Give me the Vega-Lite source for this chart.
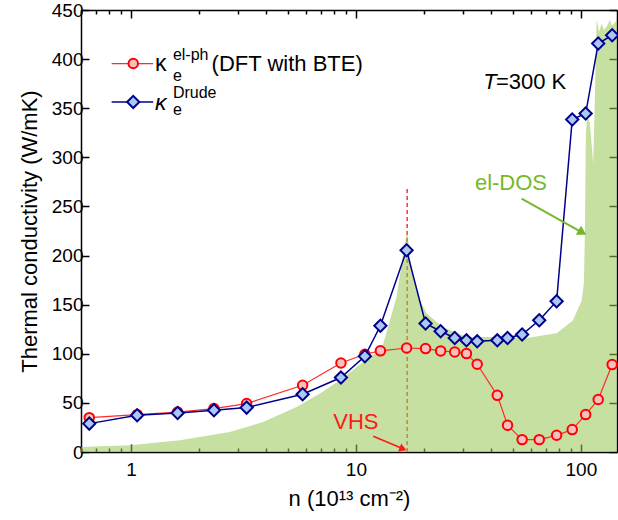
{
  "$schema": "https://vega.github.io/schema/vega-lite/v6.json",
  "autosize": "none",
  "width": 536,
  "height": 442,
  "padding": {"left": 81, "top": 10, "right": 1, "bottom": 68},
  "background": "white",
  "config": {
    "view": {"stroke": null},
    "font": "Liberation Sans",
    "axis": {
      "labelFont": "Liberation Sans", "labelFontSize": 19, "labelColor": "black",
      "titleFont": "Liberation Sans", "titleFontSize": 22, "titleFontWeight": "normal", "titleColor": "black",
      "domainColor": "black", "domainWidth": 1.5, "tickColor": "black", "tickWidth": 1.5, "grid": false
    },
    "text": {"font": "Liberation Sans"}
  },
  "datasets": {
    "red": [
      {"n": 0.653, "v": 35.0}, {"n": 1.066, "v": 38.0}, {"n": 1.613, "v": 40.7}, {"n": 2.339, "v": 44.2},
      {"n": 3.268, "v": 49.3}, {"n": 5.797, "v": 67.9}, {"n": 8.58, "v": 90.6}, {"n": 10.96, "v": 99.5},
      {"n": 12.85, "v": 103.0}, {"n": 16.8, "v": 105.9}, {"n": 20.4, "v": 105.3}, {"n": 23.8, "v": 102.9},
      {"n": 27.5, "v": 101.8}, {"n": 31.0, "v": 100.2}, {"n": 34.6, "v": 89.3}, {"n": 42.5, "v": 57.7},
      {"n": 47.2, "v": 27.2}, {"n": 54.8, "v": 12.6}, {"n": 65.3, "v": 12.6}, {"n": 78.0, "v": 17.0},
      {"n": 91.5, "v": 22.8}, {"n": 105, "v": 38.1}, {"n": 119.4, "v": 53.4}, {"n": 137.7, "v": 89.0}
    ],
    "blue": [
      {"n": 0.653, "v": 28.9}, {"n": 1.066, "v": 37.4}, {"n": 1.613, "v": 39.7}, {"n": 2.339, "v": 42.5},
      {"n": 3.268, "v": 45.2}, {"n": 5.797, "v": 58.8}, {"n": 8.58, "v": 75.8}, {"n": 10.96, "v": 97.5},
      {"n": 12.85, "v": 128.5}, {"n": 16.8, "v": 205.4}, {"n": 20.4, "v": 130.8}, {"n": 23.8, "v": 122.9},
      {"n": 27.5, "v": 116.1}, {"n": 31.0, "v": 113.7}, {"n": 34.6, "v": 112.7}, {"n": 42.5, "v": 113.7},
      {"n": 47.2, "v": 116.1}, {"n": 54.8, "v": 119.6}, {"n": 65.3, "v": 134.1}, {"n": 78.0, "v": 153.5},
      {"n": 91.5, "v": 338.5}, {"n": 105, "v": 344.6}, {"n": 119.4, "v": 415.9}, {"n": 137.7, "v": 424.3}
    ],
    "dos": [
      {"n": 0.6, "v": 5}, {"n": 0.99, "v": 6.8}, {"n": 1.65, "v": 12}, {"n": 2.75, "v": 20.4},
      {"n": 3.87, "v": 30.5}, {"n": 5.45, "v": 45.8}, {"n": 6.92, "v": 59.5}, {"n": 8.49, "v": 73},
      {"n": 10.07, "v": 86.6}, {"n": 11.54, "v": 96.7}, {"n": 12.79, "v": 103.6}, {"n": 13.22, "v": 110},
      {"n": 14.16, "v": 134}, {"n": 15.17, "v": 158}, {"n": 15.97, "v": 192}, {"n": 16.9, "v": 226},
      {"n": 17.38, "v": 199}, {"n": 17.97, "v": 178}, {"n": 18.92, "v": 158}, {"n": 20.62, "v": 141},
      {"n": 24.43, "v": 127}, {"n": 31.05, "v": 117}, {"n": 42.33, "v": 117}, {"n": 57.37, "v": 116},
      {"n": 78.0, "v": 121}, {"n": 92.1, "v": 134}, {"n": 100.7, "v": 154}, {"n": 103.1, "v": 172},
      {"n": 104.2, "v": 222}, {"n": 105.2, "v": 324}, {"n": 106.7, "v": 342}, {"n": 109.6, "v": 335},
      {"n": 113.4, "v": 294}, {"n": 115.4, "v": 360}, {"n": 117.4, "v": 440}, {"n": 120.6, "v": 428},
      {"n": 123.6, "v": 436}, {"n": 126.6, "v": 430}, {"n": 130.1, "v": 433}, {"n": 134.6, "v": 440},
      {"n": 137.4, "v": 434}, {"n": 141.6, "v": 437}, {"n": 144.7, "v": 440}
    ]
  },
  "resolve": {"axis": {"x": "independent", "y": "independent"}},
  "layer": [
    {
      "layer": [
        {
          "data": {"values": [{"n": 16.9, "v": 0, "v2": 270}]},
          "mark": {"type": "rule", "color": "#ff3030", "strokeWidth": 1.5, "strokeDash": [4, 3]},
          "encoding": {
            "x": {"field": "n", "type": "quantitative",
              "scale": {"type": "log", "domain": [0.6, 144.7], "nice": false},
              "axis": {"orient": "top", "title": null, "labels": false,
                "values": [0.6, 0.7, 0.8, 0.9, 1, 2, 3, 4, 5, 6, 7, 8, 9, 10, 20, 30, 40, 50, 60, 70, 80, 90, 100],
                "tickSize": {"condition": {"test": "datum.value == 1 || datum.value == 10 || datum.value == 100", "value": -8}, "value": -4}}},
            "y": {"field": "v", "type": "quantitative",
              "scale": {"domain": [0, 450], "nice": false, "zero": false},
              "axis": {"orient": "right", "title": null, "labels": false,
                "values": [0, 25, 50, 75, 100, 125, 150, 175, 200, 225, 250, 275, 300, 325, 350, 375, 400, 425, 450],
                "tickSize": {"condition": {"test": "datum.value % 50 == 0", "value": -8}, "value": -4}}},
            "y2": {"field": "v2"}
          }
        },
        {
          "data": {"name": "dos"},
          "mark": {"type": "area", "color": "#95c752", "opacity": 0.55, "interpolate": "linear", "clip": true},
          "encoding": {
            "x": {"field": "n", "type": "quantitative"},
            "y": {"field": "v", "type": "quantitative"}
          }
        }
      ]
    },
    {
      "layer": [
        {
          "data": {"name": "red"},
          "mark": {"type": "line", "color": "#ff2a2a", "strokeWidth": 1.2},
          "encoding": {
            "x": {"field": "n", "type": "quantitative",
              "scale": {"type": "log", "domain": [0.6, 144.7], "nice": false},
              "axis": {"orient": "bottom", "title": "n (10¹³ cm⁻²)", "titlePadding": 9,
                "values": [0.6, 0.7, 0.8, 0.9, 1, 2, 3, 4, 5, 6, 7, 8, 9, 10, 20, 30, 40, 50, 60, 70, 80, 90, 100],
                "labelExpr": "datum.value == 1 ? '1' : datum.value == 10 ? '10' : datum.value == 100 ? '100' : ''",
                "tickSize": {"condition": {"test": "datum.value == 1 || datum.value == 10 || datum.value == 100", "value": -8}, "value": -4},
                "labelPadding": 16}},
            "y": {"field": "v", "type": "quantitative",
              "scale": {"domain": [0, 450], "nice": false, "zero": false},
              "axis": {"orient": "left", "title": "Thermal conductivity (W/mK)",
                "values": [0, 25, 50, 75, 100, 125, 150, 175, 200, 225, 250, 275, 300, 325, 350, 375, 400, 425, 450],
                "labelExpr": "datum.value % 50 == 0 ? datum.label : ''",
                "tickSize": {"condition": {"test": "datum.value % 50 == 0", "value": -8}, "value": -4},
                "labelPadding": 6, "titlePadding": 10}}
          }
        },
        {
          "data": {"name": "red"},
          "mark": {"type": "point", "shape": "circle", "filled": true, "fill": "#f7c0c0", "stroke": "#ff0000", "strokeWidth": 2, "size": 90, "opacity": 1},
          "encoding": {"x": {"field": "n", "type": "quantitative"}, "y": {"field": "v", "type": "quantitative"}}
        },
        {
          "data": {"name": "blue"},
          "mark": {"type": "line", "color": "#00008b", "strokeWidth": 1.5},
          "encoding": {"x": {"field": "n", "type": "quantitative"}, "y": {"field": "v", "type": "quantitative"}}
        },
        {
          "data": {"name": "blue"},
          "mark": {"type": "point", "shape": "diamond", "filled": true, "fill": "#a9c9f2", "stroke": "#00008b", "strokeWidth": 2, "size": 150, "opacity": 1},
          "encoding": {"x": {"field": "n", "type": "quantitative"}, "y": {"field": "v", "type": "quantitative"}}
        },
        {
          "data": {"values": [{"n": 0.821, "v": 395.5}, {"n": 1.256, "v": 395.5}]},
          "mark": {"type": "line", "color": "#ff2a2a", "strokeWidth": 1.2},
          "encoding": {"x": {"field": "n", "type": "quantitative"}, "y": {"field": "v", "type": "quantitative"}}
        },
        {
          "data": {"values": [{"n": 1.024, "v": 395.5}]},
          "mark": {"type": "point", "shape": "circle", "filled": true, "fill": "#f7c0c0", "stroke": "#ff0000", "strokeWidth": 2, "size": 90, "opacity": 1},
          "encoding": {"x": {"field": "n", "type": "quantitative"}, "y": {"field": "v", "type": "quantitative"}}
        },
        {
          "data": {"values": [{"n": 0.821, "v": 356.4}, {"n": 1.256, "v": 356.4}]},
          "mark": {"type": "line", "color": "#00008b", "strokeWidth": 1.5},
          "encoding": {"x": {"field": "n", "type": "quantitative"}, "y": {"field": "v", "type": "quantitative"}}
        },
        {
          "data": {"values": [{"n": 1.024, "v": 356.4}]},
          "mark": {"type": "point", "shape": "diamond", "filled": true, "fill": "#a9c9f2", "stroke": "#00008b", "strokeWidth": 2, "size": 150, "opacity": 1},
          "encoding": {"x": {"field": "n", "type": "quantitative"}, "y": {"field": "v", "type": "quantitative"}}
        },
        {
          "data": {"values": [{"n": 1.278, "v": 395.5, "t": "κ"}]},
          "mark": {"type": "text", "fontSize": 23, "align": "left", "baseline": "middle", "color": "black"},
          "encoding": {"x": {"field": "n", "type": "quantitative"}, "y": {"field": "v", "type": "quantitative"}, "text": {"field": "t"}}
        },
        {
          "data": {"values": [{"n": 1.278, "v": 355.1, "t": "κ"}]},
          "mark": {"type": "text", "fontSize": 23, "fontStyle": "italic", "align": "left", "baseline": "middle", "color": "black"},
          "encoding": {"x": {"field": "n", "type": "quantitative"}, "y": {"field": "v", "type": "quantitative"}, "text": {"field": "t"}}
        },
        {
          "data": {"values": [{"n": 1.537, "v": 404, "t": "el-ph"}, {"n": 1.537, "v": 365.3, "t": "Drude"}, {"n": 1.537, "v": 382.5, "t": "e"}, {"n": 1.537, "v": 348.5, "t": "e"}]},
          "mark": {"type": "text", "fontSize": 16, "align": "left", "baseline": "middle", "color": "black"},
          "encoding": {"x": {"field": "n", "type": "quantitative"}, "y": {"field": "v", "type": "quantitative"}, "text": {"field": "t"}}
        },
        {
          "data": {"values": [{"n": 2.284, "v": 395.5, "t": "(DFT with BTE)"}, {"n": 41.9, "v": 376.8, "t": "=300 K"}]},
          "mark": {"type": "text", "fontSize": 22, "align": "left", "baseline": "middle", "color": "black"},
          "encoding": {"x": {"field": "n", "type": "quantitative"}, "y": {"field": "v", "type": "quantitative"}, "text": {"field": "t"}}
        },
        {
          "data": {"values": [{"n": 36.8, "v": 376.8, "t": "T"}]},
          "mark": {"type": "text", "fontSize": 22, "fontStyle": "italic", "align": "left", "baseline": "middle", "color": "black"},
          "encoding": {"x": {"field": "n", "type": "quantitative"}, "y": {"field": "v", "type": "quantitative"}, "text": {"field": "t"}}
        },
        {
          "data": {"values": [{"n": 33.8, "v": 273.6, "t": "el-DOS"}]},
          "mark": {"type": "text", "fontSize": 22, "align": "left", "baseline": "middle", "color": "#77b82a"},
          "encoding": {"x": {"field": "n", "type": "quantitative"}, "y": {"field": "v", "type": "quantitative"}, "text": {"field": "t"}}
        },
        {
          "data": {"values": [{"n": 7.93, "v": 30.5, "t": "VHS"}]},
          "mark": {"type": "text", "fontSize": 22, "align": "left", "baseline": "middle", "color": "#ff1a1a"},
          "encoding": {"x": {"field": "n", "type": "quantitative"}, "y": {"field": "v", "type": "quantitative"}, "text": {"field": "t"}}
        },
        {
          "data": {"values": [{"n": 54.5, "v": 258, "n2": 102, "v2": 223}]},
          "mark": {"type": "rule", "color": "#77b82a", "strokeWidth": 2},
          "encoding": {"x": {"field": "n", "type": "quantitative"}, "y": {"field": "v", "type": "quantitative"}, "x2": {"field": "n2"}, "y2": {"field": "v2"}}
        },
        {
          "data": {"values": [{"n": 101.5, "v": 223.5}]},
          "mark": {"type": "point", "shape": "triangle-right", "filled": true, "color": "#77b82a", "size": 110, "angle": 30, "opacity": 1},
          "encoding": {"x": {"field": "n", "type": "quantitative"}, "y": {"field": "v", "type": "quantitative"}}
        },
        {
          "data": {"values": [{"n": 11.94, "v": 16, "n2": 16.3, "v2": 3}]},
          "mark": {"type": "rule", "color": "#ff1a1a", "strokeWidth": 1.5},
          "encoding": {"x": {"field": "n", "type": "quantitative"}, "y": {"field": "v", "type": "quantitative"}, "x2": {"field": "n2"}, "y2": {"field": "v2"}}
        },
        {
          "data": {"values": [{"n": 16.2, "v": 3.2}]},
          "mark": {"type": "point", "shape": "triangle-right", "filled": true, "color": "#ff1a1a", "size": 70, "angle": 22, "opacity": 1},
          "encoding": {"x": {"field": "n", "type": "quantitative"}, "y": {"field": "v", "type": "quantitative"}}
        }
      ]
    }
  ]
}
